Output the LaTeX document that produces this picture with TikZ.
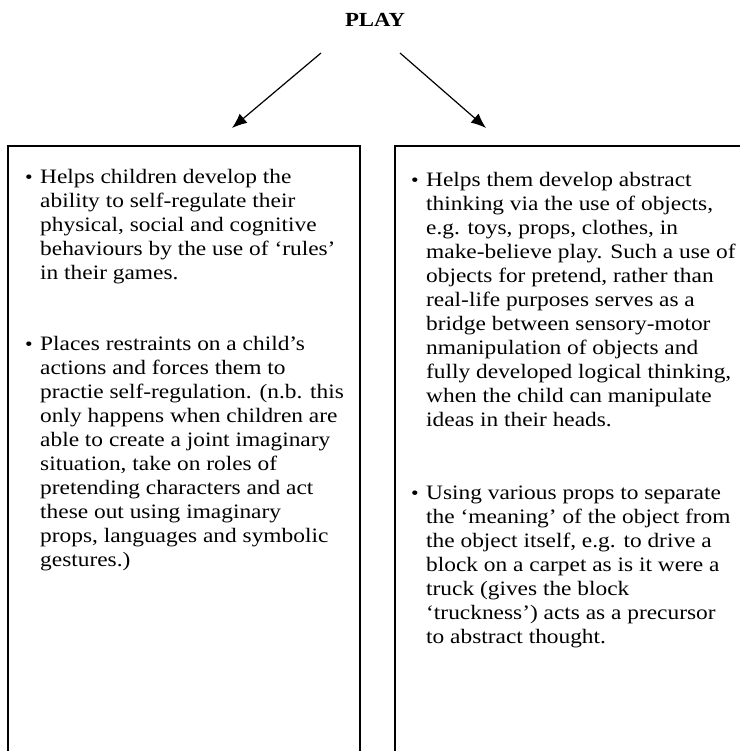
\documentclass[tikz,border=0pt]{standalone}
\usepackage{fontspec}
\setmainfont{Liberation Serif}[FakeStretch=1.14]
\usetikzlibrary{arrows.meta}
\begin{document}
\begin{tikzpicture}[x=1pt,y=-1pt,
  boxline/.style={line width=1.3pt, black},
  arr/.style={line width=1.2pt, -{Latex[length=15pt,width=12pt]}},
  txt/.style={anchor=north west, inner sep=0pt, align=left, font=\fontsize{20.5}{24}\selectfont},
  bul/.style={anchor=north west, inner sep=0pt, font=\fontsize{19}{24}\selectfont},
  title/.style={inner sep=0pt, font=\fontsize{20}{24}\selectfont\bfseries}]
\useasboundingbox (0,0) rectangle (740,751);
% title
\node[title] (play) at (375,20) {PLAY};
% arrows
\coordinate (l1) at (321,53);
\coordinate (l2) at (232,128);
\coordinate (r1) at (400,53);
\coordinate (r2) at (486,128);
\draw[arr] (l1) -- (l2);
\draw[arr] (r1) -- (r2);
% boxes
\coordinate (lbl) at (8,751);
\coordinate (ltl) at (8,146);
\coordinate (ltr) at (360,146);
\coordinate (lbr) at (360,751);
\coordinate (rbl) at (395,751);
\coordinate (rtl) at (395,146);
\coordinate (rtr) at (740,146);
\draw[boxline] (lbl) -- (ltl) -- (ltr) -- (lbr);
\draw[boxline] (rbl) -- (rtl) -- (rtr);
% left box text
\node[bul] (lb1) at (25,166.2) {\strut•};
\node[txt] (lt1) at (40,166.2) {\strut Helps children develop the\\
ability to self-regulate their\\
physical, social and cognitive\\
behaviours by the use of ‘rules’\\
in their games.};
\node[bul] (lb2) at (25,333.2) {\strut•};
\node[txt] (lt2) at (40,333.2) {\strut Places restraints on a child’s\\
actions and forces them to\\
practie self-regulation. (n.b. this\\
only happens when children are\\
able to create a joint imaginary\\
situation, take on roles of\\
pretending characters and act\\
these out using imaginary\\
props, languages and symbolic\\
gestures.)};
% right box text
\node[bul] (rb1) at (411,169.2) {\strut•};
\node[txt] (rt1) at (426,169.2) {\strut Helps them develop abstract\\
thinking via the use of objects,\\
e.g. toys, props, clothes, in\\
make-believe play. Such a use of\\
objects for pretend, rather than\\
real-life purposes serves as a\\
bridge between sensory-motor\\
nmanipulation of objects and\\
fully developed logical thinking,\\
when the child can manipulate\\
ideas in their heads.};
\node[bul] (rb2) at (411,482.2) {\strut•};
\node[txt] (rt2) at (426,482.2) {\strut Using various props to separate\\
the ‘meaning’ of the object from\\
the object itself, e.g. to drive a\\
block on a carpet as is it were a\\
truck (gives the block\\
‘truckness’) acts as a precursor\\
to abstract thought.};
\end{tikzpicture}
\end{document}
